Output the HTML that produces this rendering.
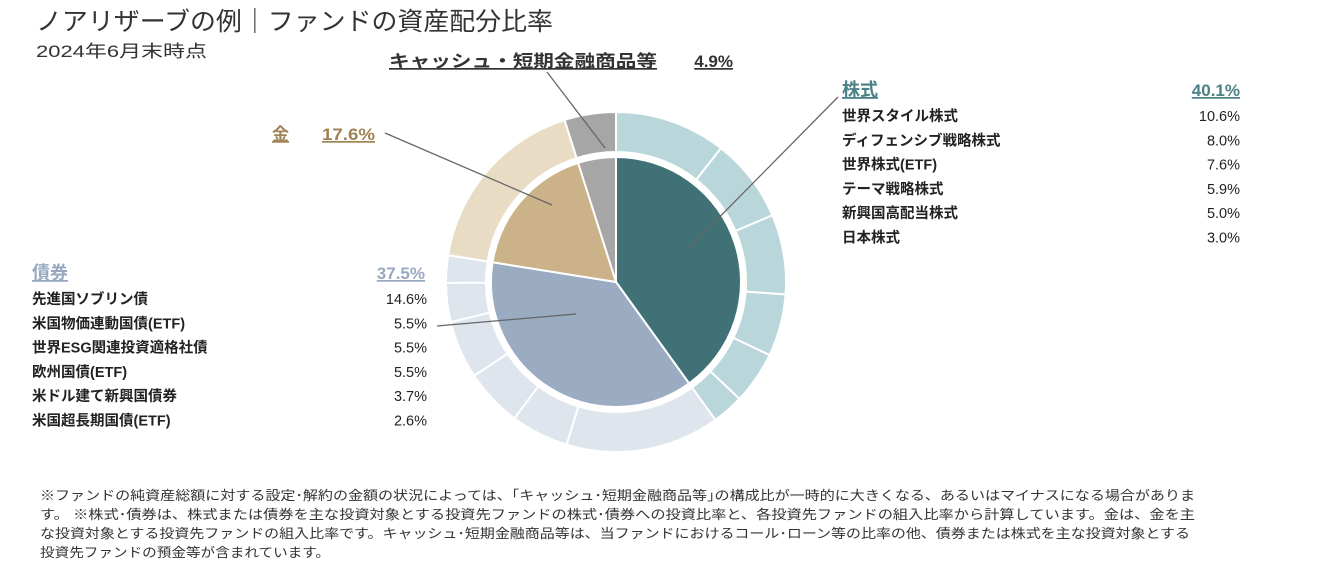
<!DOCTYPE html>
<html><head><meta charset="utf-8"><style>
body{margin:0;background:#fff;}
#wrap{position:relative;width:1317px;height:582px;overflow:hidden;font-family:"Liberation Sans","Noto Sans CJK JP",sans-serif;color:#222;}
</style></head><body>
<div id="wrap">
<svg id="svg" width="1317" height="582" style="position:absolute;left:0;top:0">
<text x="36" y="30" font-size="25" fill="#333" textLength="517" lengthAdjust="spacingAndGlyphs">ノアリザーブの例｜ファンドの資産配分比率</text>
<text x="36" y="57" font-size="17" fill="#333" textLength="171" lengthAdjust="spacingAndGlyphs">2024年6月末時点</text>
<g id="pie"></g>
<g id="leaders" stroke="#666" stroke-width="1.3">
<line x1="547" y1="72" x2="605" y2="148"/>
<line x1="385" y1="133" x2="552" y2="205"/>
<line x1="838" y1="97" x2="687" y2="250"/>
<line x1="437" y1="326" x2="576" y2="314"/>
</g>
<g font-weight="bold" font-size="17">
<text x="389" y="67" fill="#333" text-decoration="underline" textLength="268" lengthAdjust="spacingAndGlyphs">キャッシュ・短期金融商品等</text>
<text x="733" y="67" fill="#333" text-anchor="end" text-decoration="underline">4.9%</text>
<text x="272" y="140" fill="#a08352" text-decoration="underline">金</text>
<text x="322" y="140" fill="#a08352" text-decoration="underline" textLength="53" lengthAdjust="spacingAndGlyphs">17.6%</text>
<text x="842" y="96" fill="#4b8087" font-size="18" text-decoration="underline">株式</text>
<text x="1240" y="96" fill="#4b8087" text-anchor="end" text-decoration="underline">40.1%</text>
<text x="32" y="279" fill="#97a9c1" font-size="18" text-decoration="underline">債券</text>
<text x="425" y="279" fill="#97a9c1" text-anchor="end" text-decoration="underline">37.5%</text>
</g>
<g id="legends" font-size="14.5" fill="#222"></g>
<g font-size="13" fill="#333">
<text x="40" y="500" textLength="1155" lengthAdjust="spacingAndGlyphs">※ファンドの純資産総額に対する設定･解約の金額の状況によっては、｢キャッシュ･短期金融商品等｣の構成比が一時的に大きくなる、あるいはマイナスになる場合がありま</text>
<text x="40" y="519" textLength="1155" lengthAdjust="spacingAndGlyphs">す。 ※株式･債券は、株式または債券を主な投資対象とする投資先ファンドの株式･債券への投資比率と、各投資先ファンドの組入比率から計算しています。金は、金を主</text>
<text x="40" y="538" textLength="1150" lengthAdjust="spacingAndGlyphs">な投資対象とする投資先ファンドの組入比率です。キャッシュ･短期金融商品等は、当ファンドにおけるコール･ローン等の比率の他、債券または株式を主な投資対象とする</text>
<text x="40" y="557" textLength="290" lengthAdjust="spacingAndGlyphs">投資先ファンドの預金等が含まれています。</text>
</g>
</svg>
</div>
<script>
const innerCategories=["株式","債券","金","キャッシュ・短期金融商品等"];
const innerValues=[40.1,37.5,17.6,4.9];
const stockNames=["世界スタイル株式","ディフェンシブ戦略株式","世界株式(ETF)","テーマ戦略株式","新興国高配当株式","日本株式"];
const stockValues=[10.6,8.0,7.6,5.9,5.0,3.0];
const bondNames=["先進国ソブリン債","米国物価連動国債(ETF)","世界ESG関連投資適格社債","欧州国債(ETF)","米ドル建て新興国債券","米国超長期国債(ETF)"];
const bondValues=[14.6,5.5,5.5,5.5,3.7,2.6];
const goldValues=[17.6];
const cashValues=[4.9];
const NS="http://www.w3.org/2000/svg";
const cx=616,cy=282,rIn=125,r1=130,r2=170;
function ang(frac){return frac*2*Math.PI-Math.PI/2;}
function pt(r,a){return [cx+r*Math.cos(a),cy+r*Math.sin(a)];}
function arc(r0,r1_,a0,a1){
  const lg=(a1-a0)>Math.PI?1:0;
  const p1=pt(r1_,a0),p2=pt(r1_,a1);
  if(r0===0){return `M${cx},${cy}L${p1[0]},${p1[1]}A${r1_},${r1_} 0 ${lg} 1 ${p2[0]},${p2[1]}Z`;}
  const p3=pt(r0,a1),p4=pt(r0,a0);
  return `M${p1[0]},${p1[1]}A${r1_},${r1_} 0 ${lg} 1 ${p2[0]},${p2[1]}L${p3[0]},${p3[1]}A${r0},${r0} 0 ${lg} 0 ${p4[0]},${p4[1]}Z`;
}
const pie=document.getElementById('pie');
const innerColors=["#3f7177","#9aabc2","#cbb288","#a6a6a6"];
const outerColors=["#b9d6db","#dfe5ed","#e8dcc5","#a6a6a6"];
const innerTotal=innerValues.reduce((a,b)=>a+b,0);
let acc=0;
const groups=[stockValues,bondValues,goldValues,cashValues];
innerValues.forEach((v,i)=>{
  const a0=ang(acc/innerTotal),a1=ang((acc+v)/innerTotal);
  const p=document.createElementNS(NS,'path');
  p.setAttribute('d',arc(0,rIn,a0,a1));
  p.setAttribute('fill',innerColors[i]);
  p.setAttribute('stroke','#fff');p.setAttribute('stroke-width','2');
  
  
  pie.appendChild(p);
  const sub=groups[i],st=sub.reduce((a,b)=>a+b,0);
  let sacc=0;
  sub.forEach((sv,j)=>{
    const b0=a0+(a1-a0)*sacc/st,b1=a0+(a1-a0)*(sacc+sv)/st;
    const q=document.createElementNS(NS,'path');
    q.setAttribute('d',arc(r1,r2,b0,b1));
    q.setAttribute('fill',outerColors[i]);
    q.setAttribute('stroke','#fff');q.setAttribute('stroke-width','2');
    
    
    pie.appendChild(q);
    sacc+=sv;
  });
  acc+=v;
});
const lg=document.getElementById('legends');
function legend(names,vals,x,xr,y0,prefix){
  names.forEach((n,i)=>{
    const t=document.createElementNS(NS,'text');
    t.setAttribute('x',x);t.setAttribute('y',y0+i*24.3);t.textContent=n;
    t.setAttribute('font-weight','bold');
    
    
    lg.appendChild(t);
    const u=document.createElementNS(NS,'text');
    u.setAttribute('x',xr);u.setAttribute('y',y0+i*24.3);u.setAttribute('text-anchor','end');
    u.textContent=vals[i].toFixed(1)+'%';
    
    
    lg.appendChild(u);
  });
}
legend(stockNames,stockValues,842,1240,121,'stocks');
legend(bondNames,bondValues,32,427,304,'bonds');
</script>
</body></html>
